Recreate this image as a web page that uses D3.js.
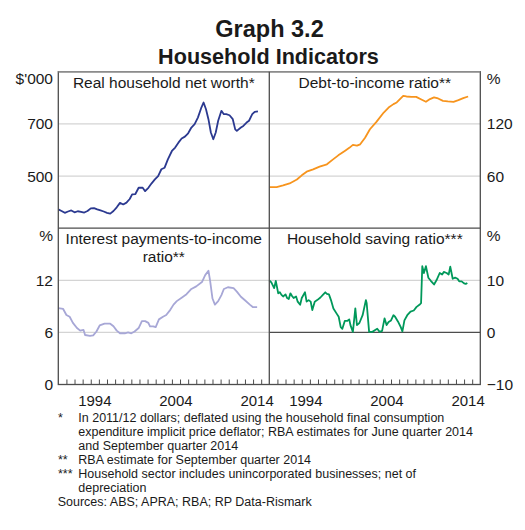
<!DOCTYPE html>
<html>
<head>
<meta charset="utf-8">
<script src="https://cdn.jsdelivr.net/npm/d3@7"></script>
<style>
   body { margin: 0; background: #fff; }
   svg { display: block; }
</style>
</head>
<body>
<svg id="svg"></svg>
<script>
// values, [year, value]
let netWorth = [
   [1990.0, 372], [1990.4, 366], [1990.8, 359], [1991.2, 364], [1991.6, 368], [1992.0, 361],
   [1992.4, 365], [1992.8, 363], [1993.2, 360], [1993.6, 366], [1994.0, 376], [1994.4, 377],
   [1994.8, 372], [1995.2, 368], [1995.6, 364], [1996.0, 359], [1996.4, 356], [1996.8, 366],
   [1997.2, 380], [1997.6, 397], [1998.0, 391], [1998.4, 398], [1998.8, 412], [1999.1, 430],
   [1999.5, 431], [1999.9, 455], [2000.4, 455], [2000.7, 442], [2001.1, 455], [2001.5, 472],
   [2001.9, 487], [2002.3, 500], [2002.7, 526], [2003.1, 532], [2003.5, 564], [2004.0, 596],
   [2004.4, 609], [2004.8, 628], [2005.2, 644], [2005.6, 651], [2006.0, 664], [2006.4, 686],
   [2006.8, 699], [2007.2, 724], [2007.6, 760], [2007.9, 782], [2008.2, 756], [2008.5, 718],
   [2008.8, 667], [2009.1, 641], [2009.4, 667], [2009.7, 712], [2010.1, 750], [2010.4, 737],
   [2010.7, 737], [2011.1, 733], [2011.5, 718], [2011.8, 679], [2012.0, 673], [2012.5, 686],
   [2012.8, 692], [2013.2, 705], [2013.5, 712], [2013.9, 737], [2014.2, 746], [2014.6, 748]
];

let debtIncome = [
   [1990.0, 47.3], [1990.9, 47.3], [1991.7, 49.2], [1992.5, 51.5], [1993.4, 56], [1994.0, 60.8],
   [1994.6, 65], [1995.4, 67.7], [1996.2, 70.8], [1997.1, 73.5], [1997.7, 78], [1998.5, 83.8],
   [1999.3, 88.8], [1999.9, 92.7], [2000.3, 95.8], [2000.8, 95], [2001.2, 96.5], [2001.8, 104],
   [2002.4, 113.8], [2003.2, 122.3], [2004.1, 133], [2004.7, 138.8], [2005.3, 142.7], [2005.7, 144.6],
   [2006.1, 148.5], [2006.5, 152.3], [2006.9, 151.5], [2007.5, 151], [2008.1, 151], [2008.8, 147.7],
   [2009.3, 145.4], [2009.8, 148.5], [2010.3, 150.4], [2010.8, 149.2], [2011.4, 146.5], [2012.0, 145.8],
   [2012.7, 145.4], [2013.3, 147.3], [2013.9, 149.6], [2014.5, 151.5]
];

let interestIncome = [
   [1990.0, 8.8], [1990.6, 8.7], [1991.0, 8.0], [1991.4, 7.8], [1991.8, 7.1], [1992.3, 6.5],
   [1992.7, 6.2], [1993.1, 6.3], [1993.3, 5.7], [1993.9, 5.6], [1994.3, 5.65], [1994.7, 6.1],
   [1995.1, 6.8], [1995.7, 7.0], [1996.4, 7.0], [1996.8, 6.7], [1997.2, 6.2], [1997.6, 5.9],
   [1998.2, 5.9], [1998.6, 6.0], [1999.0, 5.9], [1999.4, 6.1], [1999.9, 6.5], [2000.3, 7.3],
   [2000.7, 7.3], [2001.1, 7.1], [2001.3, 6.7], [2001.7, 6.7], [2002.0, 6.6], [2002.4, 7.5],
   [2002.9, 7.8], [2003.3, 8.0], [2003.8, 8.6], [2004.2, 9.2], [2004.6, 9.6], [2005.2, 10.0],
   [2005.8, 10.4], [2006.4, 11.0], [2007.0, 11.3], [2007.7, 11.8], [2008.1, 12.6], [2008.5, 13.1],
   [2008.7, 12.0], [2009.0, 9.9], [2009.3, 9.2], [2009.7, 9.6], [2010.1, 10.3], [2010.4, 11.0],
   [2010.9, 11.2], [2011.6, 11.1], [2012.0, 10.7], [2012.5, 10.1], [2013.0, 9.7], [2013.6, 9.2],
   [2014.0, 8.9], [2014.5, 8.9]
];

let savingRatio = [
   [1990.0, 10.0], [1990.25, 9.6], [1990.6, 8.5], [1990.8, 9.9], [1991.1, 7.5], [1991.3, 7.7],
   [1991.5, 7.2], [1991.7, 6.9], [1992.0, 7.3], [1992.2, 6.6], [1992.4, 6.4], [1992.6, 7.5],
   [1992.8, 7.0], [1993.0, 6.6], [1993.3, 6.9], [1993.5, 5.9], [1993.8, 5.3], [1994.0, 6.6],
   [1994.4, 7.7], [1994.6, 5.9], [1994.85, 6.2], [1995.1, 5.9], [1995.3, 4.3], [1995.6, 5.9],
   [1995.9, 6.2], [1996.3, 6.7], [1996.6, 7.2], [1996.9, 7.7], [1997.1, 7.4], [1997.35, 7.3],
   [1997.6, 6.2], [1997.9, 4.6], [1998.3, 3.6], [1998.55, 3.0], [1998.8, 1.0], [1999.0, 0.7],
   [1999.3, 2.2], [1999.6, 2.2], [1999.85, 2.5], [2000.0, 1.4], [2000.3, 0.1], [2000.6, 4.6],
   [2000.8, 1.4], [2001.1, 1.8], [2001.5, 3.3], [2001.9, 6.2], [2002.0, 5.6], [2002.3, 0.1],
   [2002.7, 0.1], [2003.0, 0.4], [2003.3, 0.7], [2003.6, 0.1], [2003.9, 0.3], [2004.2, 2.7],
   [2004.45, 1.4], [2004.7, 2.0], [2005.0, 2.3], [2005.3, 3.3], [2005.5, 3.0], [2005.85, 2.1],
   [2006.2, 1.0], [2006.4, 0.2], [2006.65, 2.3], [2007.0, 3.3], [2007.4, 4.0], [2007.8, 4.2],
   [2008.15, 4.9], [2008.5, 5.3], [2008.7, 5.6], [2008.85, 12.7], [2009.05, 11.4], [2009.3, 12.7],
   [2009.6, 10.5], [2009.9, 9.9], [2010.3, 9.2], [2010.6, 10.0], [2011.0, 11.4], [2011.3, 11.1],
   [2011.5, 11.6], [2011.85, 11.4], [2012.1, 11.1], [2012.3, 12.6], [2012.6, 10.3], [2012.9, 10.5],
   [2013.2, 10.3], [2013.4, 9.8], [2013.7, 9.8], [2014.0, 9.4], [2014.2, 9.3], [2014.4, 9.5]
];

let yearLabels = [1994, 2004, 2014];
let yearTicks = d3.range(1991, 2016);

let footnotes = [
   ['*', 'In 2011/12 dollars; deflated using the household final consumption'],
   ['', 'expenditure implicit price deflator; RBA estimates for June quarter 2014'],
   ['', 'and September quarter 2014'],
   ['**', 'RBA estimate for September quarter 2014'],
   ['***', 'Household sector includes unincorporated businesses; net of'],
   ['', 'depreciation']
];

let config = {
   width: 525,
   height: 530,
   left: 58.3,
   mid: 269.3,
   right: 480.3,
   top: 71.7,
   middle: 228.2,
   bottom: 384.5,
   font: 'Arial, "Liberation Sans", Helvetica, sans-serif',
   frame: '#4d4d4d',
   grid: '#d4d4d4'
};

let svg = d3.select('#svg')
   .attr('width', config.width)
   .attr('height', config.height)
   .style('font-family', config.font);

svg.append('text')
   .attr('x', 269.5).attr('y', 37.3)
   .attr('text-anchor', 'middle')
   .attr('font-size', 23.5).attr('font-weight', 'bold')
   .attr('fill', '#1a1a1a')
   .text('Graph 3.2');

svg.append('text')
   .attr('x', 268.5).attr('y', 64)
   .attr('text-anchor', 'middle')
   .attr('font-size', 21.6).attr('font-weight', 'bold')
   .attr('fill', '#1a1a1a')
   .text('Household Indicators');

function drawPanel(p) {
   let x = d3.scaleLinear().domain([1990, 2016]).range([p.x0, p.x1]);
   let y = d3.scaleLinear().domain(p.domain).range([p.y1, p.y0]);
   let g = svg.append('g');

   g.selectAll('line.grid')
      .data(p.grid)
      .enter().append('line')
      .attr('class', 'grid')
      .attr('x1', p.x0).attr('x2', p.x1)
      .attr('y1', d => y(d)).attr('y2', d => y(d))
      .attr('stroke', d => d === 0 ? config.frame : config.grid)
      .attr('stroke-width', d => d === 0 ? 1.3 : 1.2);

   let line = d3.line()
      .x(d => x(d[0]))
      .y(d => y(d[1]));

   g.append('path')
      .datum(p.data)
      .attr('d', line)
      .attr('fill', 'none')
      .attr('stroke', p.color)
      .attr('stroke-width', 1.8)
      .attr('stroke-linejoin', 'round');

   // value labels on the outer side
   let axis = p.side == 'left'
      ? d3.axisLeft(y).tickPadding(5.3)
      : d3.axisRight(y).tickPadding(6.5);
   axis.tickValues(p.ticks).tickSize(0).tickFormat(d3.format('d'));
   let ag = g.append('g')
      .attr('transform', 'translate(' + (p.side == 'left' ? p.x0 : p.x1) + ',0)')
      .call(axis);
   ag.select('.domain').remove();
   ag.attr('font-family', config.font).attr('font-size', 15.5);
   ag.selectAll('text').attr('fill', '#1a1a1a');

   g.append('text')
      .attr('x', p.side == 'left' ? p.x0 - 5.3 : p.x1 + 6.5)
      .attr('y', p.y0 + 12.5)
      .attr('text-anchor', p.side == 'left' ? 'end' : 'start')
      .attr('font-size', 15.5)
      .attr('fill', '#1a1a1a')
      .text(p.unit);

   p.title.forEach((t, i) => {
      g.append('text')
         .attr('x', (p.x0 + p.x1) / 2)
         .attr('y', p.y0 + 15.8 + i * 17.5)
         .attr('text-anchor', 'middle')
         .attr('font-size', 15.5)
         .attr('fill', '#1a1a1a')
         .text(t);
   });

   if (p.years) {
      let xg = g.append('g')
         .attr('transform', 'translate(0,' + p.y1 + ')')
         .call(d3.axisBottom(x).tickValues(yearTicks).tickSize(-5).tickFormat(''));
      xg.select('.domain').remove();
      xg.selectAll('line').attr('stroke', config.frame).attr('stroke-width', 1);

      g.selectAll('text.year')
         .data(yearLabels)
         .enter().append('text')
         .attr('class', 'year')
         .attr('x', d => x(d + 0.5))
         .attr('y', p.y1 + 21)
         .attr('text-anchor', 'middle')
         .attr('font-size', 15)
         .attr('fill', '#1a1a1a')
         .text(d => d);
   }
}

drawPanel({
   x0: config.left, x1: config.mid, y0: config.top, y1: config.middle,
   domain: [300, 900], grid: [500, 700], ticks: [500, 700],
   side: 'left', unit: "$'000", title: ['Real household net worth*'],
   data: netWorth, color: '#2b3990'
});

drawPanel({
   x0: config.mid, x1: config.right, y0: config.top, y1: config.middle,
   domain: [0, 180], grid: [60, 120], ticks: [60, 120],
   side: 'right', unit: '%', title: ['Debt-to-income ratio**'],
   data: debtIncome, color: '#f7941d'
});

drawPanel({
   x0: config.left, x1: config.mid, y0: config.middle, y1: config.bottom,
   domain: [0, 18], grid: [6, 12], ticks: [0, 6, 12],
   side: 'left', unit: '%', title: ['Interest payments-to-income', 'ratio**'],
   data: interestIncome, color: '#a7a7d6', years: true
});

drawPanel({
   x0: config.mid, x1: config.right, y0: config.middle, y1: config.bottom,
   domain: [-10, 20], grid: [0, 10], ticks: [-10, 0, 10],
   side: 'right', unit: '%', title: ['Household saving ratio***'],
   data: savingRatio, color: '#00985a', years: true
});

// frame and dividers
svg.append('rect')
   .attr('x', config.left).attr('y', config.top)
   .attr('width', config.right - config.left)
   .attr('height', config.bottom - config.top)
   .attr('fill', 'none')
   .attr('stroke', config.frame)
   .attr('stroke-width', 1.3);

svg.append('line')
   .attr('x1', config.left).attr('x2', config.right)
   .attr('y1', config.top).attr('y2', config.top)
   .attr('stroke', '#8c8c8c').attr('stroke-width', 1.6);

svg.append('line')
   .attr('x1', config.mid).attr('x2', config.mid)
   .attr('y1', config.top).attr('y2', config.bottom)
   .attr('stroke', config.frame).attr('stroke-width', 1.3);

svg.append('line')
   .attr('x1', config.left).attr('x2', config.right)
   .attr('y1', config.middle).attr('y2', config.middle)
   .attr('stroke', config.frame).attr('stroke-width', 1.3);

let notes = svg.append('g')
   .attr('font-size', 12.5)
   .attr('fill', '#1a1a1a');

footnotes.forEach((f, i) => {
   let yy = 421.7 + i * 14;
   notes.append('text').attr('x', 58).attr('y', yy).text(f[0]);
   notes.append('text').attr('x', 78.3).attr('y', yy).text(f[1]);
});

notes.append('text')
   .attr('x', 57.7).attr('y', 421.7 + 6 * 14)
   .text('Sources: ABS; APRA; RBA; RP Data-Rismark');
</script>
</body>
</html>
